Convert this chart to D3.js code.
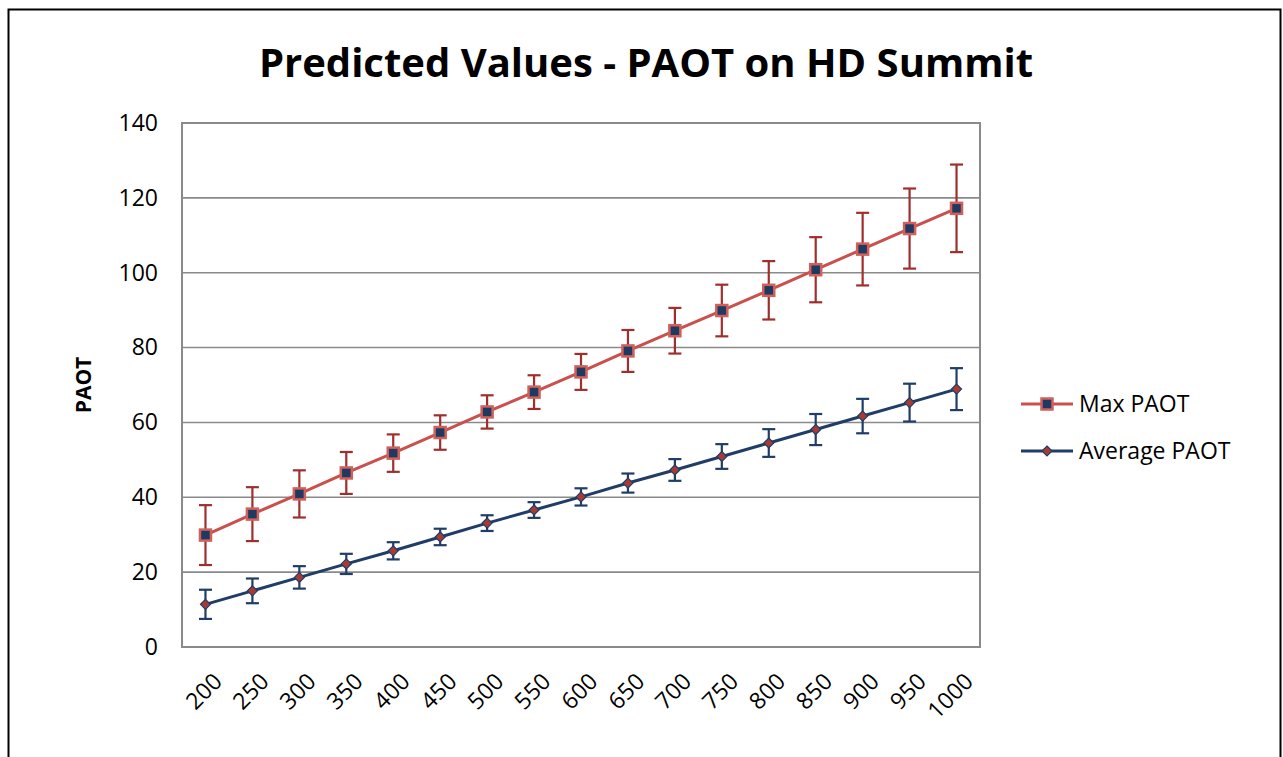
<!DOCTYPE html>
<html>
<head>
<meta charset="utf-8">
<script src="https://cdn.jsdelivr.net/npm/d3@7"></script>
<style>
  body { margin: 0; background: #fff; }
  svg { display: block; }
  text { font-family: "Open Sans", "Noto Sans", sans-serif; }
</style>
</head>
<body>
<div id="chart"></div>
<script>
// categories on the x axis
var categories = ["200", "250", "300", "350", "400", "450", "500", "550", "600",
                  "650", "700", "750", "800", "850", "900", "950", "1000"];

// Max PAOT and its error bars
var maxValues = [29.9, 35.5, 40.9, 46.5, 51.8, 57.3, 62.8, 68.1, 73.5,
                 79.1, 84.5, 89.9, 95.3, 100.8, 106.3, 111.8, 117.2];
var maxErr = [8.0, 7.2, 6.3, 5.6, 5.0, 4.6, 4.45, 4.5, 4.8,
              5.6, 6.1, 6.9, 7.8, 8.7, 9.7, 10.7, 11.7];

// Average PAOT and its error bars
var avgValues = [11.4, 15.0, 18.6, 22.2, 25.7, 29.4, 33.1, 36.6, 40.1,
                 43.8, 47.3, 50.9, 54.5, 58.1, 61.7, 65.3, 68.9];
var avgErr = [3.9, 3.3, 3.0, 2.7, 2.3, 2.2, 2.1, 2.1, 2.3,
              2.55, 2.9, 3.3, 3.7, 4.15, 4.6, 5.05, 5.6];

var yTicks = [0, 20, 40, 60, 80, 100, 120, 140];

var W = 1283, H = 757;
var plot = {left: 182, right: 980, top: 123, bottom: 647};

var svg = d3.select("#chart").append("svg")
    .attr("width", W)
    .attr("height", H);

// outer chart frame
svg.append("rect")
    .attr("x", 8.5).attr("y", 9.5)
    .attr("width", 1272).attr("height", 780)
    .attr("fill", "none")
    .attr("stroke", "#000")
    .attr("stroke-width", 2);

var x = d3.scaleBand()
    .domain(categories)
    .range([plot.left, plot.right]);

var y = d3.scaleLinear()
    .domain([0, 140])
    .range([plot.bottom, plot.top]);

function cx(i) { return x(categories[i]) + x.bandwidth() / 2; }

// gridlines
svg.append("g").selectAll("line")
    .data(yTicks.slice(1, -1))
    .enter().append("line")
    .attr("x1", plot.left).attr("x2", plot.right)
    .attr("y1", function(d){ return y(d); })
    .attr("y2", function(d){ return y(d); })
    .attr("stroke", "#8a8a8a")
    .attr("stroke-width", 1.6);

// plot border
svg.append("rect")
    .attr("x", plot.left).attr("y", plot.top)
    .attr("width", plot.right - plot.left)
    .attr("height", plot.bottom - plot.top)
    .attr("fill", "none")
    .attr("stroke", "#8a8a8a")
    .attr("stroke-width", 2);

// y axis
var yAxis = svg.append("g")
    .attr("transform", "translate(" + plot.left + ",0)")
    .call(d3.axisLeft(y).tickValues(yTicks).tickSize(0).tickPadding(24));
yAxis.select(".domain").remove();
yAxis.selectAll("text")
    .style("font-family", "'Open Sans', sans-serif")
    .style("font-size", "23px")
    .attr("fill", "#000");

// x axis, rotated labels
var xAxis = svg.append("g")
    .attr("transform", "translate(0," + plot.bottom + ")")
    .call(d3.axisBottom(x).tickSize(0));
xAxis.select(".domain").remove();
xAxis.selectAll("text")
    .style("font-family", "'Open Sans', sans-serif")
    .style("font-size", "23px")
    .attr("fill", "#000")
    .attr("text-anchor", "end")
    .attr("dy", null)
    .attr("y", 0)
    .attr("transform", "translate(18,36) rotate(-45)");

// title
svg.append("text")
    .attr("x", 646).attr("y", 77)
    .attr("text-anchor", "middle")
    .style("font-family", "'Open Sans', sans-serif")
    .style("font-weight", "bold")
    .style("font-size", "40px")
    .text("Predicted Values - PAOT on HD Summit");

// y axis title
svg.append("text")
    .attr("transform", "translate(91," + ((plot.top + plot.bottom) / 2) + ") rotate(-90)")
    .attr("text-anchor", "middle")
    .style("font-family", "'Open Sans', sans-serif")
    .style("font-weight", "bold")
    .style("font-size", "21px")
    .text("PAOT");

var series = [
  {name: "Max PAOT", values: maxValues, err: maxErr,
   line: "#c9504c", bar: "#9e2f2c", marker: "square", mfill: "#1f3a60", mstroke: "#d0605c"},
  {name: "Average PAOT", values: avgValues, err: avgErr,
   line: "#1f3d66", bar: "#1f3d66", marker: "diamond", mfill: "#a63a34", mstroke: "#1f3d66"}
];

var lineGen = d3.line()
    .x(function(d, i){ return cx(i); })
    .y(function(d){ return y(d); });

function drawMarker(g, type, px, py, s) {
  if (type === "square") {
    g.append("rect")
      .attr("x", px - 5.5).attr("y", py - 5.5)
      .attr("width", 11).attr("height", 11)
      .attr("fill", s.mfill)
      .attr("stroke", s.mstroke)
      .attr("stroke-width", 2.5);
  } else {
    g.append("path")
      .attr("d", "M" + px + "," + (py - 5) + "L" + (px + 5) + "," + py +
                 "L" + px + "," + (py + 5) + "L" + (px - 5) + "," + py + "Z")
      .attr("fill", s.mfill)
      .attr("stroke", s.mstroke)
      .attr("stroke-width", 1.2);
  }
}

series.forEach(function(s) {
  var g = svg.append("g");

  // error bars
  var eb = g.append("g").selectAll("g")
      .data(s.values)
      .enter().append("g");
  eb.append("line")
      .attr("x1", function(d, i){ return cx(i); })
      .attr("x2", function(d, i){ return cx(i); })
      .attr("y1", function(d, i){ return y(d + s.err[i]); })
      .attr("y2", function(d, i){ return y(d - s.err[i]); })
      .attr("stroke", s.bar).attr("stroke-width", 2.2);
  [1, -1].forEach(function(sign) {
    eb.append("line")
      .attr("x1", function(d, i){ return cx(i) - 6.5; })
      .attr("x2", function(d, i){ return cx(i) + 6.5; })
      .attr("y1", function(d, i){ return y(d + sign * s.err[i]); })
      .attr("y2", function(d, i){ return y(d + sign * s.err[i]); })
      .attr("stroke", s.bar).attr("stroke-width", 2.2);
  });

  // line
  g.append("path")
      .datum(s.values)
      .attr("d", lineGen)
      .attr("fill", "none")
      .attr("stroke", s.line)
      .attr("stroke-width", 3);

  // markers
  s.values.forEach(function(d, i) {
    drawMarker(g, s.marker, cx(i), y(d), s);
  });
});

// legend
var legend = svg.append("g");
series.forEach(function(s, k) {
  var ly = 404 + k * 47;
  legend.append("line")
    .attr("x1", 1021).attr("x2", 1073)
    .attr("y1", ly).attr("y2", ly)
    .attr("stroke", s.line).attr("stroke-width", 3);
  drawMarker(legend, s.marker, 1047, ly, s);
  legend.append("text")
    .attr("x", 1079).attr("y", ly + 8)
    .style("font-family", "'Open Sans', sans-serif")
    .style("font-size", "23px")
    .text(s.name);
});
</script>
</body>
</html>
